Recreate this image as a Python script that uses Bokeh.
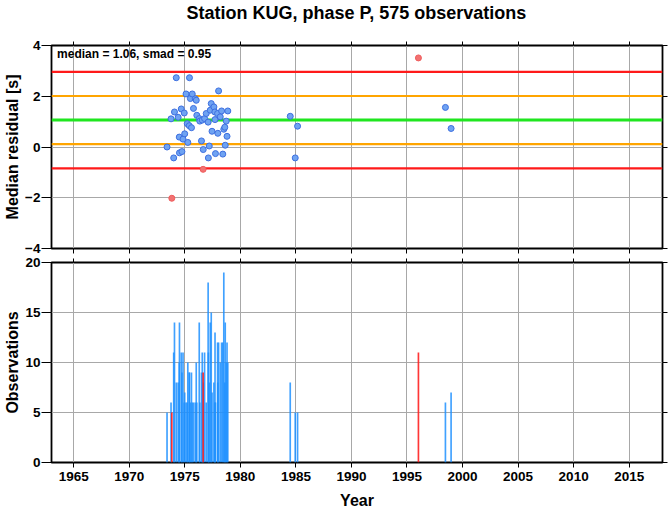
from bokeh.plotting import figure
from bokeh.layouts import column
from bokeh.models import (Span, Label, LinearAxis, SingleIntervalTicker,
                          CustomJSTickFormatter, Range1d, ColumnDataSource, Title)
from bokeh.embed import file_html
from bokeh.resources import INLINE

TITLE = "Station KUG, phase P, 575 observations"
MEDIAN = 1.06
SMAD = 0.95

# regular bins: decimal year, median residual [s], number of observations
years_in = [1973.40, 1973.76, 1974.00, 1974.07, 1974.23, 1974.40, 1974.50, 1974.52,
            1974.68, 1974.74, 1974.84, 1974.95, 1974.99, 1975.11, 1975.22, 1975.27,
            1975.40, 1975.42, 1975.50, 1975.60, 1975.67, 1975.78, 1975.94, 1976.03,
            1976.08, 1976.30, 1976.35, 1976.50, 1976.57, 1976.66, 1976.78, 1976.93,
            1977.10, 1977.12, 1977.20, 1977.29, 1977.38, 1977.45, 1977.62, 1977.70,
            1977.72, 1977.76, 1977.95, 1977.97, 1978.04, 1978.19, 1978.31, 1978.42,
            1978.51, 1978.60, 1978.64, 1978.73, 1978.80, 1978.87, 1984.49, 1984.94,
            1985.15, 1998.46, 1998.97]
resid_in = [0.00, 1.11, -0.43, 1.38, 2.73, 1.17, 0.39, -0.23,
            1.50, -0.18, 0.31, 1.34, 0.52, 2.09, 0.92, 0.18,
            0.84, 2.73, 1.91, 0.76, 2.09, 1.52, 1.90, 1.84,
            1.25, 1.12, 1.02, 0.24, 1.06, -0.10, 1.12, 1.32,
            0.98, -0.43, 0.04, 1.45, 1.71, 0.62, 1.58, 1.38,
            1.08, -0.26, 1.32, 0.54, 2.21, 1.19, 1.42, -0.28,
            0.70, 0.78, 0.07, 1.02, 0.42, 1.42, 1.21, -0.43,
            0.82, 1.56, 0.73]
nobs_in = [5, 6, 11, 14, 8, 8, 10, 14,
           11, 9, 11, 6, 7, 6, 6, 10,
           9, 9, 6, 9, 6, 6, 6, 10,
           6, 14, 6, 9, 11, 8, 11, 6,
           18, 11, 8, 14, 15, 7, 8, 6,
           13, 6, 12, 8, 12, 10, 12, 12,
           19, 8, 14, 10, 12, 10, 8, 5,
           5, 6, 7]

# outlier bins (beyond median +/- 2 smad)
years_out = [1973.83, 1976.65, 1996.03]
resid_out = [-2.02, -0.88, 3.51]
nobs_out = [5, 9, 11]

FONT = "Liberation Sans"
X0, X1 = 1963, 2018

src_in = ColumnDataSource(dict(x=years_in, y=resid_in, n=nobs_in))
src_out = ColumnDataSource(dict(x=years_out, y=resid_out, n=nobs_out))

blank = CustomJSTickFormatter(code="return ''")


def frame_axes(p, yint, xlabels):
    p.outline_line_color = "black"
    p.outline_line_width = 1.8
    p.xgrid.ticker = SingleIntervalTicker(interval=5)
    p.ygrid.ticker = SingleIntervalTicker(interval=yint)
    for g in (p.xgrid, p.ygrid):
        g.grid_line_color = "#a8a8a8"
        g.grid_line_width = 1
    xa = p.xaxis[0]
    xa.ticker = SingleIntervalTicker(interval=5)
    ya = p.yaxis[0]
    ya.ticker = SingleIntervalTicker(interval=yint)
    for ax in (xa, ya):
        ax.axis_line_color = None
        ax.minor_tick_line_color = None
        ax.major_tick_in = 0
        ax.major_tick_line_color = "black"
        ax.major_label_text_font = FONT
        ax.major_label_text_font_style = "bold"
        ax.major_label_text_font_size = "13.5px"
        ax.major_label_text_color = "black"
        ax.axis_label_text_font = FONT
        ax.axis_label_text_font_style = "bold"
        ax.axis_label_text_font_size = "16px"
        ax.axis_label_text_color = "black"
    ya.major_tick_out = 10
    ya.major_label_standoff = 1
    ya.axis_label_standoff = 1
    xa.major_tick_out = 5
    xa.major_label_standoff = 4
    xa.axis_label_standoff = 8
    if not xlabels:
        xa.formatter = blank
        xa.major_label_text_font_size = "0px"
        xa.major_label_standoff = 0
        xa.axis_label = None
    right = LinearAxis(ticker=SingleIntervalTicker(interval=yint), formatter=blank,
                       major_label_text_font_size="0px", major_label_standoff=0,
                       axis_line_color=None, minor_tick_line_color=None,
                       major_tick_in=0, major_tick_out=5)
    p.add_layout(right, "right")


def top_ticks(p):
    top = LinearAxis(ticker=SingleIntervalTicker(interval=5), formatter=blank,
                     major_label_text_font_size="0px", major_label_standoff=0,
                     axis_line_color=None, minor_tick_line_color=None,
                     major_tick_in=0, major_tick_out=4)
    p.add_layout(top, "above")


# ---------- top panel: median residuals ----------
p1 = figure(width=669, height=255, x_range=Range1d(X0, X1),
            y_range=Range1d(-4, 4), output_backend="svg", toolbar_location=None,
            min_border_left=51, min_border_right=7, min_border_top=45,
            min_border_bottom=7, background_fill_color="white",
            border_fill_color="white", title=None)
p1.yaxis.axis_label = "Median residual [s]"
frame_axes(p1, 2, False)
top_ticks(p1)
p1.add_layout(Title(text=TITLE, text_font=FONT, text_font_style="bold",
                    text_font_size="18px", text_color="black", align="left",
                    offset=135, standoff=0,
                    padding=dict(left=0, right=0, top=0, bottom=19)), "above")

levels = [(MEDIAN + 2 * SMAD, "#ff1a1a", 2.2), (MEDIAN - 2 * SMAD, "#ff1a1a", 2.2),
          (MEDIAN + SMAD, "#ffa500", 2.2), (MEDIAN - SMAD, "#ffa500", 2.2),
          (MEDIAN, "#1fe61f", 3.0)]
for loc, col, w in levels:
    p1.add_layout(Span(location=loc, dimension="width", line_color=col,
                       line_width=w, level="underlay"))

p1.scatter("x", "y", source=src_in, size=6, fill_color="#6fa3f2",
           line_color="#3d6fe0", line_width=1)
p1.scatter("x", "y", source=src_out, size=6, fill_color="#f27272",
           line_color="#f05c5c", line_width=1)

p1.add_layout(Label(x=X0 + 0.5, y=3.68,
                    text="median = %.2f, smad = %.2f" % (MEDIAN, SMAD),
                    text_font=FONT, text_font_style="bold", text_font_size="12px",
                    text_baseline="middle", text_align="left", text_color="black"))

# ---------- bottom panel: observation counts ----------
p2 = figure(width=669, height=256, x_range=Range1d(X0, X1),
            y_range=Range1d(0, 20), output_backend="svg", toolbar_location=None,
            min_border_left=51, min_border_right=7, min_border_top=7,
            min_border_bottom=48, background_fill_color="white",
            border_fill_color="white")
p2.xaxis.axis_label = "Year"
p2.yaxis.axis_label = "Observations"
frame_axes(p2, 5, True)
top_ticks(p2)

p2.vbar(x="x", top="n", bottom=0, width=0.15, source=src_in,
        fill_color="#1e90ff", fill_alpha=0.85, line_color=None)
p2.vbar(x="x", top="n", bottom=0, width=0.15, source=src_out,
        fill_color="#ff2020", fill_alpha=0.9, line_color=None)

layout = column(p1, p2, spacing=0)
open("out.html", "w").write(file_html(layout, INLINE))
